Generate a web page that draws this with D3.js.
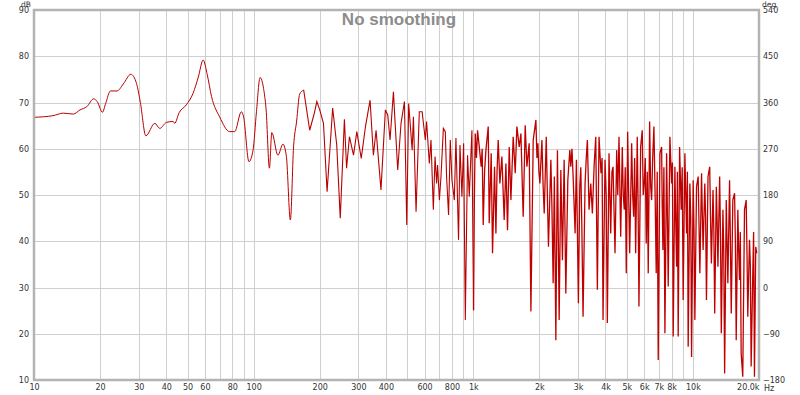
<!DOCTYPE html>
<html>
<head>
<meta charset="utf-8">
<script src="https://cdn.jsdelivr.net/npm/d3@7"></script>
<style>
  body { margin: 0; background: #fff; }
  svg { display: block; font-family: "DejaVu Sans", sans-serif; }
</style>
</head>
<body>
<svg width="800" height="395"></svg>
<script>
// frequency response: below 1 kHz (Hz, dB)
var lowFreqs = [10, 12.2, 13.6, 15.1, 16.2, 17.4, 18.7, 19.4, 20.5, 21.2, 22.3, 23.9, 25.5, 27.6, 29.3, 30.5, 32.3, 35.5, 37.4, 40.1,
  43, 43.7, 45.8, 49.4, 53, 56, 58.9, 61.5, 64.3, 70, 77.8, 82, 87.9, 90, 95.2, 99.4, 103, 107, 111, 114,
  118, 121, 129, 136, 141, 147, 152, 157, 162, 169, 180, 189, 194, 200, 208, 216, 229, 239, 248, 259,
  265, 273, 285, 295, 309, 323, 339, 351, 361, 380, 398, 408, 418, 433, 453, 469, 486, 498, 508, 527,
  534, 549, 568, 585, 605, 613, 631, 642, 658, 670, 681, 688, 701, 713, 731, 746, 756, 772, 786, 800,
  820, 834, 857, 870, 888, 904, 920, 942, 959, 986];
var lowDb = [66.8, 67.15, 67.7, 67.5, 68.4, 69.1, 70.8, 70.2, 67.9, 69.8, 72.5, 72.5, 74, 76.1, 74.1, 70, 62.8, 65.5, 64.4, 65.7,
  65.9, 65.5, 67.8, 69.5, 72, 75.5, 79.2, 76, 71.3, 66.9, 63.7, 63.7, 68, 66.9, 57.2, 59.7, 68, 75.4, 73, 68.4,
  55.8, 63.5, 58.6, 61, 58.3, 44.6, 60.4, 66, 71.8, 72.7, 64, 67.7, 70.2, 68.4, 65.5, 50.7, 68.8, 60.8, 45, 66.4,
  55.8, 62.6, 58.6, 63.7, 57.9, 64.8, 70.5, 58.6, 64, 51.1, 68.4, 67.3, 61.9, 72.3, 55.4, 65.5, 70.2, 43.5, 69.8, 59.7,
  66.9, 46.4, 68, 68, 61.9, 65.9, 56.8, 61.9, 46.8, 58.3, 52.5, 56.5, 48.9, 54, 64.4, 63.7, 54, 45.7, 61.9, 53.2,
  48.9, 62.3, 40.3, 60.8, 49.6, 61.2, 23, 58.6, 49.6, 64];

// 1 kHz and up, where the trace gets dense
var highFreqs = [1003, 1012, 1021, 1034, 1046, 1065, 1087, 1098, 1110, 1126, 1142, 1170, 1182, 1207, 1224, 1250, 1268, 1283, 1299, 1322,
  1350, 1383, 1408, 1432, 1458, 1484, 1520, 1553, 1580, 1619, 1648, 1688, 1724, 1755, 1797, 1830, 1875, 1928, 1950, 1969,
  1990, 2011, 2054, 2080, 2104, 2150, 2175, 2200, 2256, 2280, 2311, 2340, 2377, 2417, 2461, 2505, 2547, 2593, 2639, 2695,
  2752, 2781, 2815, 2849, 2909, 2949, 3011, 3055, 3088, 3120, 3162, 3229, 3270, 3308, 3367, 3428, 3486, 3549, 3612, 3673,
  3738, 3817, 3860, 3898, 3981, 4030, 4078, 4151, 4226, 4280, 4329, 4420, 4499, 4550, 4609, 4691, 4770, 4820, 4871, 4920,
  4974, 5047, 5100, 5154, 5263, 5320, 5374, 5430, 5488, 5581, 5630, 5681, 5783, 5881, 5940, 6005, 6070, 6132, 6200, 6262,
  6354, 6420, 6489, 6560, 6647, 6730, 6809, 6880, 6953, 7078, 7205, 7250, 7304, 7380, 7458, 7592, 7650, 7721, 7859, 8000,
  8070, 8135, 8281, 8350, 8430, 8500, 8572, 8699, 8846, 8940, 9032, 9195, 9360, 9440, 9518, 9689, 9780, 9863, 10030, 10120,
  10210, 10390, 10570, 10660, 10760, 10950, 11040, 11130, 11330, 11430, 11530, 11720, 11930, 12030, 12140, 12350, 12460, 12570, 12790, 12900,
  13000, 13240, 13350, 13470, 13700, 13820, 13950, 14190, 14310, 14430, 14690, 14820, 14950, 15200, 15480, 15610, 15750, 16020, 16160, 16300,
  16440, 16590, 16870, 17180, 17480, 17630, 17780, 18100, 18260, 18420, 18740, 18900, 19070, 19330, 19530];
var highDb = [25.1, 50, 63.3, 58, 64, 60.4, 56.1, 60, 43.5, 55, 59.7, 64.8, 43.9, 59, 37.4, 56.1, 41.7, 55, 61.9, 52.5,
  58.3, 44.6, 56.8, 42.4, 60.4, 48.9, 62.6, 54.7, 64.8, 60.4, 63.3, 45.3, 65.1, 56.1, 61.2, 24.8, 61.9, 66.2, 58, 61.2,
  55, 52.5, 61.9, 52, 46, 62.6, 50, 38.8, 57.6, 48, 30.9, 54, 18.6, 59.7, 23, 55.4, 35.9, 57.6, 28.7, 53.2,
  59.7, 56.1, 60, 54, 41.7, 57.6, 26.6, 51.8, 56, 43.9, 23.7, 52.5, 58, 61.9, 46.8, 52.5, 46, 56.1, 62.6, 29.5,
  62.6, 54.7, 58, 23, 57.6, 50, 22.3, 59, 41.7, 55, 56.1, 37.4, 59.7, 50, 62.6, 41, 60.4, 50, 46.8, 56,
  33.1, 63.7, 50, 37.4, 61.2, 50, 45.3, 58, 37.4, 62.6, 48, 25.9, 60.4, 64, 50, 52.5, 58, 39.5, 55, 33.1,
  65.9, 52, 48.9, 58, 64.8, 50, 33.1, 55, 14.3, 59, 60.4, 48, 38.1, 56, 20.1, 59, 47, 30.2, 62.6, 52.5,
  57, 19.4, 56.1, 45, 34.5, 55, 19.4, 60.4, 46.8, 56, 27.3, 59, 41.7, 55, 17.2, 52.5, 45, 15, 53.2, 42,
  23, 51.8, 54, 44, 33.1, 54.7, 46, 38.1, 52.5, 45, 27.3, 54, 56.1, 45, 35.2, 51.1, 42, 24.4, 51.8, 44,
  34.5, 54, 42, 20.1, 46.8, 38, 11.4, 48.9, 40, 30.9, 53.2, 40, 24.4, 48.9, 50.4, 40, 18.6, 46.8, 38, 31.6,
  42, 15.8, 10.7, 46.8, 48.9, 38, 23.7, 40.3, 35, 12.9, 33.1, 42, 10.7, 38.8, 37.4];

var dbTicks = [10, 20, 30, 40, 50, 60, 70, 80, 90];
var degTicks = [-180, -90, 0, 90, 180, 270, 360, 450, 540];
var gridFreqs = [10, 20, 30, 40, 50, 60, 70, 80, 90, 100, 200, 300, 400, 500, 600, 700, 800, 900, 1000,
  2000, 3000, 4000, 5000, 6000, 7000, 8000, 9000, 10000, 20000];
var freqTicks = [10, 20, 30, 40, 50, 60, 80, 100, 200, 300, 400, 600, 800, 1000, 2000, 3000, 4000, 5000, 6000, 7000, 8000, 10000, 20000];
var freqLabels = ["10", "20", "30", "40", "50", "60", "80", "100", "200", "300", "400", "600", "800", "1k", "2k", "3k", "4k", "5k", "6k", "7k", "8k", "10k", "20.0k"];

var svg = d3.select("svg"),
    margin = {top: 10, right: 41, bottom: 15, left: 34},
    width = +svg.attr("width") - margin.left - margin.right,
    height = +svg.attr("height") - margin.top - margin.bottom,
    g = svg.append("g").attr("transform", "translate(" + margin.left + "," + margin.top + ")");

var x = d3.scaleLog().domain([10, 20000]).range([0, width]),
    y = d3.scaleLinear().domain([10, 90]).range([height, 0]),
    yDeg = d3.scaleLinear().domain([-180, 540]).range([height, 0]);

// grid
g.selectAll(".vgrid")
  .data(gridFreqs)
  .enter().append("line")
    .attr("class", "vgrid")
    .attr("x1", function(d) { return Math.round(x(d)) + 0.5; })
    .attr("x2", function(d) { return Math.round(x(d)) + 0.5; })
    .attr("y1", 0).attr("y2", height)
    .attr("stroke", "#cfcfcf");

g.selectAll(".hgrid")
  .data(dbTicks)
  .enter().append("line")
    .attr("class", "hgrid")
    .attr("x1", 0).attr("x2", width)
    .attr("y1", function(d) { return Math.round(y(d)) + 0.5; })
    .attr("y2", function(d) { return Math.round(y(d)) + 0.5; })
    .attr("stroke", "#cfcfcf");

// response curve: smooth at the low end, straight segments once it gets dense
svg.append("clipPath").attr("id", "plot-clip")
  .append("rect").attr("width", width).attr("height", height + 1);

var freqs = lowFreqs.concat(highFreqs),
    spl = lowDb.concat(highDb);
var points = spl.map(function(d, i) { return {f: freqs[i], db: d}; });
var split = freqs.indexOf(169),
    dense = freqs.indexOf(1003);

var smooth = d3.line()
    .curve(d3.curveMonotoneX)
    .x(function(d) { return x(d.f); })
    .y(function(d) { return y(d.db); });

var jagged = d3.line()
    .x(function(d) { return x(d.f); })
    .y(function(d) { return y(d.db); });

var curve = g.append("g").attr("clip-path", "url(#plot-clip)")
    .attr("fill", "none")
    .attr("stroke", "#b80000");

curve.append("path").attr("stroke-width", 1).attr("d", smooth(points.slice(0, split + 1)));
curve.append("path").attr("stroke-width", 1.1).attr("d", jagged(points.slice(split, dense + 1)));
curve.append("path").attr("stroke", "#c00000").attr("stroke-width", 1.3).attr("d", jagged(points.slice(dense)));

// frame
g.append("rect")
    .attr("width", width).attr("height", height)
    .attr("fill", "none")
    .attr("stroke", "#b3b3b3")
    .attr("stroke-width", 2.5);

// axes
var xAxis = g.append("g")
    .attr("transform", "translate(0," + height + ")")
    .call(d3.axisBottom(x).tickValues(freqTicks).tickSize(0).tickPadding(4)
      .tickFormat(function(d, i) { return freqLabels[i]; }));
xAxis.selectAll("text").filter(function(d) { return d === 20000; }).attr("text-anchor", "end");

var yAxis = g.append("g")
    .call(d3.axisLeft(y).tickValues(dbTicks).tickSize(0).tickPadding(5));

var degAxis = g.append("g")
    .attr("transform", "translate(" + width + ",0)")
    .call(d3.axisRight(yDeg).tickValues(degTicks).tickSize(0).tickPadding(4));

[xAxis, yAxis, degAxis].forEach(function(a) {
  a.select(".domain").remove();
  a.selectAll("text").attr("fill", "#333").style("font-size", "8px").style("font-family", "DejaVu Sans, sans-serif");
});

svg.append("text")
    .attr("x", margin.left + width + 5).attr("y", height + margin.top + 5)
    .attr("dy", "0.71em")
    .attr("fill", "#333").style("font-size", "8px")
    .text("Hz");

svg.append("text")
    .attr("x", margin.left - 3).attr("y", 7)
    .attr("text-anchor", "end")
    .attr("fill", "#333").style("font-size", "7.5px")
    .text("dB");

svg.append("text")
    .attr("x", margin.left + width + 3).attr("y", 7)
    .attr("fill", "#333").style("font-size", "7.5px")
    .text("deg");

// title
svg.append("text")
    .attr("x", 399).attr("y", 25)
    .attr("text-anchor", "middle")
    .attr("fill", "#8c8c8c")
    .style("font-family", "Liberation Sans, Arial, sans-serif")
    .style("font-size", "17px")
    .style("font-weight", "bold")
    .text("No smoothing");
</script>
</body>
</html>
